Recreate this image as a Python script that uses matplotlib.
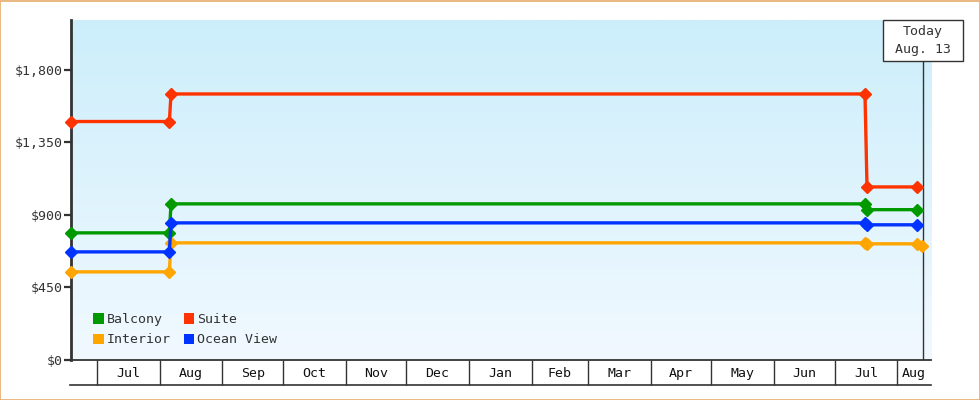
import datetime as dt
import numpy as np
import matplotlib
matplotlib.use("Agg")
import matplotlib.pyplot as plt
import matplotlib.dates as mdates
import matplotlib.transforms as mtransforms
from matplotlib.patches import Rectangle, Patch

# price history per cabin type
step_dates = [dt.datetime(2018, 6, 18), dt.datetime(2018, 8, 5, 18), dt.datetime(2018, 8, 6, 14),
              dt.datetime(2019, 7, 16), dt.datetime(2019, 7, 17), dt.datetime(2019, 8, 10, 14)]
balcony = [789, 789, 969, 969, 933, 933]
suite = [1480, 1480, 1651, 1651, 1074, 1074]
ocean_view = [671, 671, 851, 851, 839, 839]
interior_dates = step_dates + [dt.datetime(2019, 8, 13, 3)]
interior = [547, 547, 727, 727, 721, 721, 706]

series = [("Balcony", step_dates, balcony, "#009900"),
          ("Interior", interior_dates, interior, "#ffa500"),
          ("Suite", step_dates, suite, "#ff3300"),
          ("Ocean View", step_dates, ocean_view, "#0033ff")]

y_ticks = [0, 450, 900, 1350, 1800]
y_labels = ["$0", "$450", "$900", "$1,350", "$1,800"]
month_labels = ["Jul", "Aug", "Sep", "Oct", "Nov", "Dec", "Jan", "Feb",
                "Mar", "Apr", "May", "Jun", "Jul", "Aug"]
month_starts = [dt.datetime(2018 + (6 + i) // 12, (6 + i) % 12 + 1, 1) for i in range(len(month_labels))]
x_start = dt.datetime(2018, 6, 18, 2)
x_end = dt.datetime(2019, 8, 17, 16)
today = dt.datetime(2019, 8, 13, 14)
today_text = "Today\nAug. 13"

DARK = "#333333"
FONT = "DejaVu Sans Mono"
plt.rcParams["font.family"] = FONT

fig = plt.figure(figsize=(9.8, 4), dpi=100)
fig.patch.set_facecolor("white")
fig.add_artist(Rectangle((0.0005, 0.001), 0.999, 0.9975, transform=fig.transFigure,
                         fill=False, ec="#e8ac6c", lw=1.2))

ax = fig.add_axes([71 / 980, 40 / 400, 860 / 980, 340 / 400])
ax.set_facecolor("none")

# background gradient
grad = np.linspace(0, 1, 256).reshape(-1, 1)
top = np.array([204, 238, 251]) / 255.0
bot = np.array([241, 249, 255]) / 255.0
img = top[None, None, :] * (1 - grad[:, :, None]) + bot[None, None, :] * grad[:, :, None]
ax.imshow(img, extent=[0, 1, 0, 1], transform=ax.transAxes, aspect="auto", zorder=0)

xs = mdates.date2num(x_start)
xe = mdates.date2num(x_end)

for name, d, v, c in series:
    ax.plot(mdates.date2num(d), v, color=c, lw=2.4, marker="D", ms=6,
            mec=c, zorder=3, clip_on=False, solid_joinstyle="miter")

ax.set_xlim(xs, xe)
ax.set_ylim(0, 2110)

# y axis
for s in ["top", "right"]:
    ax.spines[s].set_visible(False)
ax.spines["left"].set_color(DARK)
ax.spines["left"].set_linewidth(2)
ax.spines["bottom"].set_color(DARK)
ax.spines["bottom"].set_linewidth(1.3)
ax.set_yticks(y_ticks)
ax.set_yticklabels(y_labels)
ax.tick_params(axis="y", length=5, width=1.6, color=DARK, pad=1, labelsize=9.5, labelcolor=DARK)

# x axis drawn as a row of month cells
starts = mdates.date2num(month_starts)
ax.set_xticks(starts)
ax.set_xticklabels([])
ax.tick_params(axis="x", which="major", direction="out", length=18, width=1, color=DARK)
ends = list(starts[1:]) + [xe]
centers = [(a + b) / 2 for a, b in zip(starts, ends)]
ax.set_xticks(centers, minor=True)
ax.set_xticklabels(month_labels, minor=True)
ax.tick_params(axis="x", which="minor", length=0, pad=5, labelsize=9.5, labelcolor="#111111")
ax.plot([-0.001, 1], [-25 / 340, -25 / 340], transform=ax.transAxes, color=DARK,
        lw=1.2, clip_on=False)

# today marker
blend = mtransforms.blended_transform_factory(ax.transData, ax.transAxes)
tn = mdates.date2num(today)
ax.plot([tn, tn], [0, (360 - 60.5) / 340], transform=blend, color=DARK, lw=1, zorder=2)
ax.add_patch(Rectangle((tn - 19.8, (360 - 60.5) / 340), 39.6, 40 / 340, transform=blend,
                       fc="white", ec=DARK, lw=1, clip_on=False, zorder=4))
ax.text(tn, (360 - 40.5) / 340, today_text, transform=blend, ha="center", va="center",
        ma="center", fontsize=9.5, color=DARK, linespacing=1.45, zorder=5)

# legend
handles = [Patch(fc=c, ec="none", label=n) for n, _, _, c in series]
ax.legend(handles=handles, ncol=2, frameon=False, loc="lower left",
          bbox_to_anchor=(0.015, 0.013), fontsize=9.5, handlelength=0.8, handleheight=0.8,
          handletextpad=0.25, columnspacing=0.95, labelspacing=0.55, borderpad=0.2,
          labelcolor=DARK)

fig.savefig("out.png", dpi=100)
